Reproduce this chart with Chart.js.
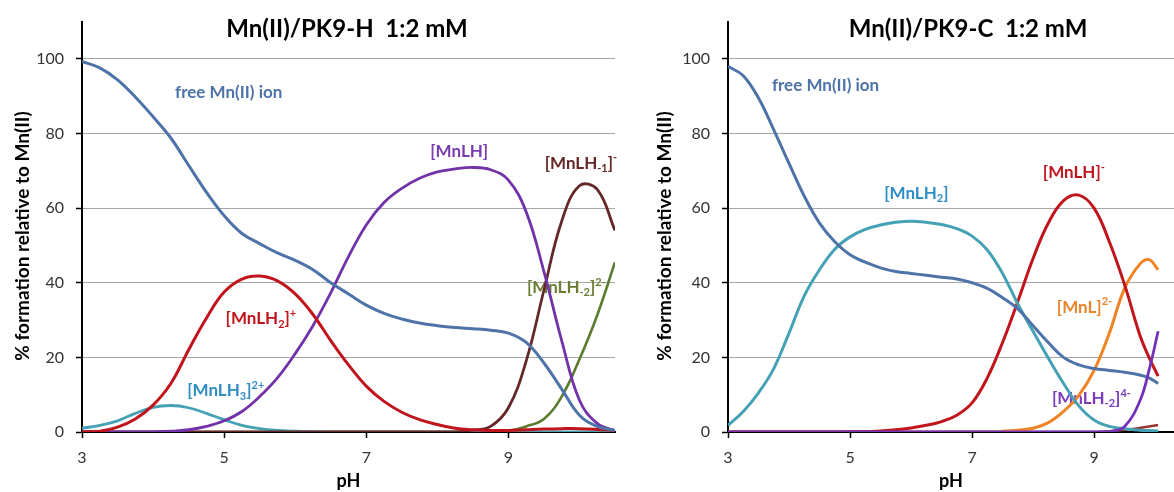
<!DOCTYPE html>
<html>
<head>
<meta charset="utf-8">
<script src="https://cdn.jsdelivr.net/npm/chart.js@4/dist/chart.umd.min.js"></script>
<style>
  html, body { margin: 0; padding: 0; background: #fff; overflow: hidden; }
  .box { position: absolute; top: 0; height: 492px; }
  #boxH { left: 0; width: 627px; }
  #boxC { left: 640px; width: 534px; }
</style>
</head>
<body>
<div class="box" id="boxH"><canvas id="chartH"></canvas></div>
<div class="box" id="boxC"><canvas id="chartC"></canvas></div>
<script>
// ---- data: left panel, Mn(II)/PK9-H
const pHH = [3, 3.25, 3.5, 3.75, 4, 4.25, 4.5, 4.75, 5, 5.25, 5.5, 5.75, 6, 6.25, 6.5, 6.75,
             7, 7.25, 7.5, 7.75, 8, 8.25, 8.5, 8.75, 9, 9.25, 9.5, 9.75, 10, 10.25, 10.5];
const freeH  = [99.3, 97.6, 94.4, 89.8, 84.5, 78.8, 71.5, 64.3, 58, 53.2, 50.5, 48, 46, 43.5, 40, 37,
                34, 31.8, 30.3, 29.2, 28.5, 28, 27.7, 27.3, 26.5, 24, 18.5, 11.5, 4.5, 1.5, 0.4];
const lh3H   = [1, 1.8, 3, 5, 6.6, 7.1, 6.5, 5, 3.3, 1.8, 0.9, 0.4, 0.2, 0.1, 0.05, 0,
                0, 0, 0, 0, 0, 0, 0, 0, 0, 0, 0, 0, 0, 0, 0];
const lh2H   = [0, 0.2, 1.3, 3.5, 7.2, 13, 22, 30.5, 37.5, 41, 41.8, 40.5, 37, 31.5, 24.5, 18,
                12.3, 8.2, 5.3, 3.3, 2, 1, 0.6, 0.4, 0.4, 0.6, 0.8, 0.9, 0.9, 0.7, 0.4];
const lhH    = [0, 0, 0, 0, 0.05, 0.2, 0.6, 1.5, 3, 5.5, 9.5, 14.5, 21, 28.5, 37.3, 47,
                55.5, 61.5, 65.3, 68, 69.7, 70.5, 70.9, 70.3, 67.5, 59, 43, 24.5, 8.5, 2.3, 0.3];
const lhm1H  = [0, 0, 0, 0, 0, 0, 0, 0, 0, 0, 0, 0, 0, 0, 0, 0,
                0, 0, 0, 0, 0, 0, 0.5, 1.5, 6.5, 19, 38, 56.5, 66, 65, 54];
const lhm2H  = [0, 0, 0, 0, 0, 0, 0, 0, 0, 0, 0, 0, 0, 0, 0, 0,
                0, 0, 0, 0, 0, 0, 0, 0, 0.3, 1.5, 3.5, 9.5, 19.5, 31.3, 45.5];

// ---- data: right panel, Mn(II)/PK9-C
const pHC = [3, 3.25, 3.5, 3.75, 4, 4.25, 4.5, 4.75, 5, 5.25, 5.5, 5.75, 6, 6.25, 6.5, 6.75,
             7, 7.25, 7.5, 7.75, 8, 8.25, 8.5, 8.75, 9, 9.25, 9.5, 9.75, 9.9, 10.05];
const freeC  = [98, 95.5, 89.5, 81, 72, 63.2, 56, 51, 47.5, 45.5, 44, 43, 42.5, 42, 41.5, 41,
                40, 38.5, 36, 33, 28.5, 24, 20, 18, 17, 16.5, 16, 15.3, 14.5, 13];
const lh2C   = [1.8, 5.5, 10.5, 17, 26.5, 36.5, 43.5, 49, 52.3, 54.3, 55.5, 56.2, 56.5, 56.2, 55.6, 54.5,
                52.5, 48.8, 42.5, 34.3, 27, 19.8, 13, 7, 3.2, 1.5, 0.9, 0.5, 0.4, 0.3];
const lhC    = [0, 0, 0, 0, 0, 0, 0, 0, 0.05, 0.1, 0.3, 0.6, 1.1, 1.8, 2.8, 4.5,
                7.8, 14.5, 24, 35, 46.5, 56, 62, 63.5, 60, 51, 39.5, 26, 20, 15];
const lC     = [0, 0, 0, 0, 0, 0, 0, 0, 0, 0, 0, 0, 0, 0, 0, 0,
                0, 0, 0.2, 0.5, 1, 2.5, 5.5, 9.8, 16.5, 26.5, 38.5, 45, 46.2, 43.5];
const lhm2C  = [0, 0, 0, 0, 0, 0, 0, 0, 0, 0, 0, 0, 0, 0, 0, 0,
                0, 0, 0, 0, 0, 0, 0, 0, 0, 0.1, 1.5, 8.3, 16.5, 27];
const minorC = [0, 0, 0, 0, 0, 0, 0, 0, 0, 0, 0, 0, 0, 0, 0, 0,
                0, 0, 0, 0, 0, 0, 0, 0, 0, 0.2, 0.6, 1.1, 1.5, 1.9];

const xTicks = [3, 5, 7, 9];
const yTicks = [0, 20, 40, 60, 80, 100];

const FONT = 'Lato';
Chart.defaults.font.family = FONT;

function pts(xs, ys) { return xs.map((x, i) => ({ x: x, y: ys[i] })); }

function line(data, color, width) {
  return {
    data: data, borderColor: color, borderWidth: width || 3,
    pointRadius: 0, tension: 0.4, fill: false
  };
}

// text with sub/superscripts: parts = [[text, mode], ...]
function drawRich(ctx, parts, x, y, size, color) {
  let cx = x;
  ctx.fillStyle = color;
  ctx.textAlign = 'left';
  ctx.textBaseline = 'middle';
  for (const [txt, mode] of parts) {
    const s = mode ? Math.round(size * 0.66) : size;
    ctx.font = 'bold ' + s + 'px ' + FONT;
    const dy = mode === 'sub' ? size * 0.3 : (mode === 'sup' ? -size * 0.32 : 0);
    ctx.fillText(txt, cx, y + dy);
    cx += ctx.measureText(txt).width;
  }
}

const notesPlugin = {
  id: 'notes',
  beforeDatasetsDraw(chart, args, opts) {
    const ctx = chart.ctx;
    const xs = chart.scales.x, ys = chart.scales.y;
    ctx.save();
    // panel title
    ctx.fillStyle = '#000';
    ctx.font = 'bold 24px ' + FONT;
    ctx.textAlign = 'center';
    ctx.textBaseline = 'middle';
    ctx.fillText(opts.title, opts.titleX, 29);
    // y axis title
    ctx.save();
    ctx.translate(opts.yTitleX, 236);
    ctx.rotate(-Math.PI / 2);
    ctx.font = 'bold 19px ' + FONT;
    ctx.fillText('% formation relative to Mn(II)', 0, 0);
    ctx.restore();
    // species labels
    for (const lb of opts.labels) {
      drawRich(ctx, lb.parts, xs.getPixelForValue(lb.at[0]), ys.getPixelForValue(lb.at[1]), 17, lb.color);
    }
    ctx.restore();
  }
};

function makeOptions(xMax, yWidth, padRight, notes) {
  return {
    responsive: true,
    maintainAspectRatio: false,
    animation: false,
    layout: { padding: { top: 14, right: padRight, left: 0, bottom: 0 } },
    plugins: { legend: { display: false }, tooltip: { enabled: false }, notes: notes },
    scales: {
      x: {
        type: 'linear', min: 3, max: xMax,
        afterBuildTicks: s => { s.ticks = xTicks.map(v => ({ value: v })); },
        afterFit: s => { s.height = 60; },
        grid: { drawOnChartArea: false, drawTicks: true, tickLength: 6, tickColor: '#000', tickWidth: 1.5 },
        border: { color: '#000', width: 2 },
        ticks: { font: { size: 16 }, color: '#333', padding: 10, maxRotation: 0 },
        title: { display: true, text: 'pH', font: { size: 18, weight: 'bold' }, color: '#000', padding: { top: 0, bottom: 0 } }
      },
      y: {
        min: 0, max: 110,
        afterBuildTicks: s => { s.ticks = yTicks.map(v => ({ value: v })); },
        afterFit: s => { s.width = yWidth; },
        grid: {
          color: c => (c.tick && c.tick.value === 0 ? 'rgba(0,0,0,0)' : '#a6a6a6'),
          lineWidth: 1, tickLength: 6, tickColor: '#000', tickWidth: 1.5
        },
        border: { color: '#000', width: 2 },
        ticks: { font: { size: 16 }, color: '#333', padding: 12 }
      }
    }
  };
}

new Chart(document.getElementById('chartH'), {
  type: 'line',
  data: {
    datasets: [
      line(pts(pHH, freeH), '#4d73a8'),
      line(pts(pHH, lh2H), '#c0151d'),
      line(pts(pHH, lhH), '#7232a8', 2.8),
      line(pts(pHH, lhm1H), '#652828', 2.8),
      line(pts(pHH, lh3H), '#45a2b4', 2.8),
      line(pts(pHH, lhm2H), '#5c7a30', 2.6)
    ]
  },
  options: makeOptions(10.5, 82, 12, {
    title: 'Mn(II)/PK9-H  1:2 mM', titleX: 347, yTitleX: 23,
    labels: [
      { parts: [['free Mn(II) ion']], at: [4.31, 91], color: '#4d73a8' },
      { parts: [['[MnLH]']], at: [7.9, 75.3], color: '#7a3cb0' },
      { parts: [['[MnLH'], ['-1', 'sub'], [']'], ['-', 'sup']], at: [9.51, 72], color: '#652828' },
      { parts: [['[MnLH'], ['2', 'sub'], [']'], ['+', 'sup']], at: [5.02, 30.3], color: '#c0151d' },
      { parts: [['[MnLH'], ['3', 'sub'], [']'], ['2+', 'sup']], at: [4.48, 11], color: '#2f8dc2' },
      { parts: [['[MnLH'], ['-2', 'sub'], [']'], ['2-', 'sup']], at: [9.26, 38.7], color: '#6b7d35' }
    ]
  }),
  plugins: [notesPlugin]
});

new Chart(document.getElementById('chartC'), {
  type: 'line',
  data: {
    datasets: [
      line(pts(pHC, lhm2C), '#7232b8', 2.8),
      line(pts(pHC, freeC), '#4d73a8'),
      line(pts(pHC, lh2C), '#45a2b4'),
      line(pts(pHC, lhC), '#c0151d'),
      line(pts(pHC, lC), '#f08424'),
      line(pts(pHC, minorC), '#943634', 2.5)
    ]
  },
  options: makeOptions(10.31, 88, 0, {
    title: 'Mn(II)/PK9-C  1:2 mM', titleX: 328, yTitleX: 25,
    labels: [
      { parts: [['free Mn(II) ion']], at: [3.72, 92.9], color: '#4d73a8' },
      { parts: [['[MnLH'], ['2', 'sub'], [']']], at: [5.56, 64], color: '#2f8dc8' },
      { parts: [['[MnLH]'], ['-', 'sup']], at: [8.16, 69.5], color: '#c0151d' },
      { parts: [['[MnL]'], ['2-', 'sup']], at: [8.39, 33.4], color: '#e8842a' },
      { parts: [['[MnLH'], ['-2', 'sub'], [']'], ['4-', 'sup']], at: [8.31, 9], color: '#7a3cb8' }
    ]
  }),
  plugins: [notesPlugin]
});
</script>
</body>
</html>
